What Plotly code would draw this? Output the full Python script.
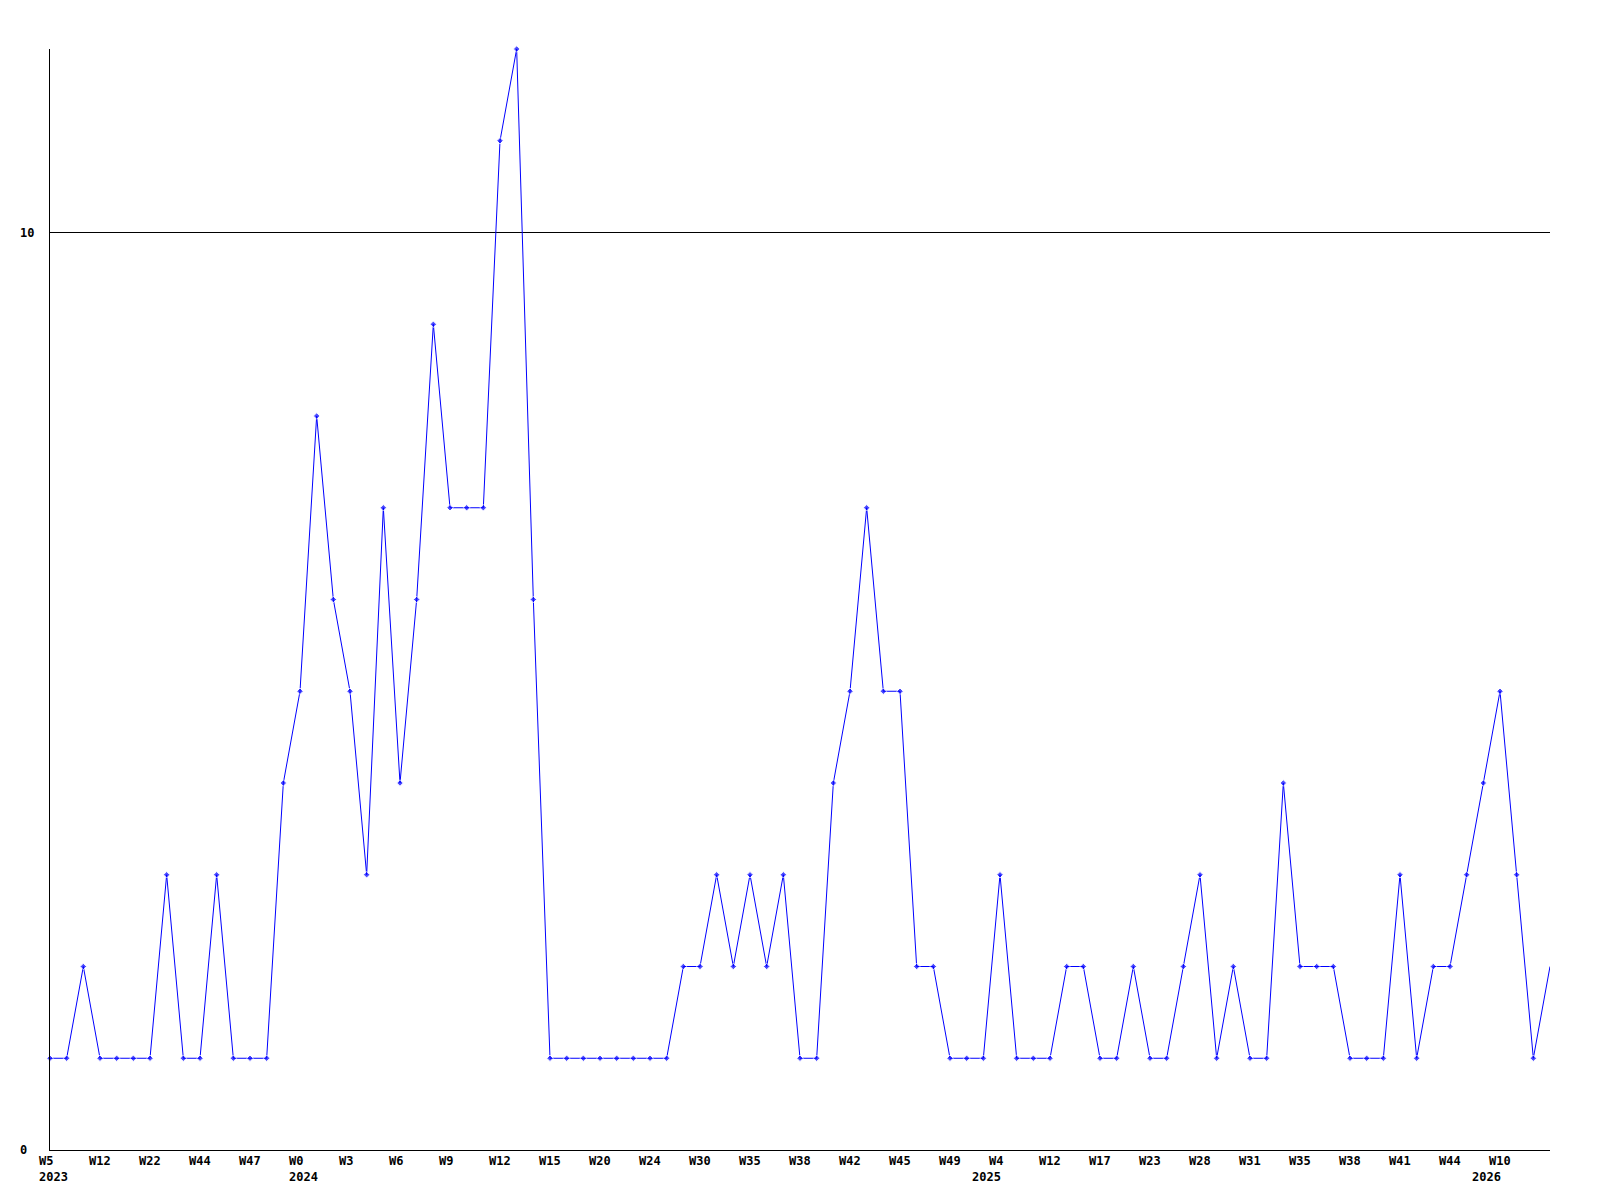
import plotly.graph_objects as go

values = [1, 1, 2, 1, 1, 1, 1, 3, 1, 1, 3, 1, 1, 1, 4, 5, 8, 6, 5, 3,
          7, 4, 6, 9, 7, 7, 7, 11, 12, 6, 1, 1, 1, 1, 1, 1, 1, 1, 2, 2,
          3, 2, 3, 2, 3, 1, 1, 4, 5, 7, 5, 5, 2, 2, 1, 1, 1, 3, 1, 1,
          1, 2, 2, 1, 1, 2, 1, 1, 2, 3, 1, 2, 1, 1, 4, 2, 2, 2, 1, 1,
          1, 3, 1, 2, 2, 3, 4, 5, 3, 1, 2]

week_labels = ["W5", "W12", "W22", "W44", "W47", "W0", "W3", "W6", "W9", "W12",
               "W15", "W20", "W24", "W30", "W35", "W38", "W42", "W45", "W49", "W4",
               "W12", "W17", "W23", "W28", "W31", "W35", "W38", "W41", "W44", "W10"]
year_labels = ["2023", "2024", "2025", "2026"]
year_index = [0, 15, 56, 86]
y_ticks = [0, 10]

x = list(range(len(values)))
tick_pos = list(range(0, len(values), 3))[:len(week_labels)]

font = dict(family="DejaVu Sans Mono", size=12, color="black")

sizes = [5] * len(values)
sizes[-1] = 0

fig = go.Figure()
fig.add_trace(go.Scatter(
    x=x, y=values, mode="lines+markers",
    line=dict(color="#0000ff", width=1),
    marker=dict(color="#0000ff", size=sizes, symbol="diamond"),
    cliponaxis=False, hoverinfo="skip",
))

annotations = []
for pos, lab in zip(tick_pos, week_labels):
    annotations.append(dict(x=pos, y=0, xref="x", yref="y", text="<b>%s</b>" % lab,
                            showarrow=False, xanchor="left", yanchor="middle",
                            xshift=-13, yshift=-11, font=font))
for pos, lab in zip(year_index, year_labels):
    annotations.append(dict(x=pos, y=0, xref="x", yref="y", text="<b>%s</b>" % lab,
                            showarrow=False, xanchor="left", yanchor="middle",
                            xshift=-13, yshift=-27, font=font))
for t in y_ticks:
    annotations.append(dict(x=0, y=t, xref="paper", yref="y", text="<b>%d</b>" % t,
                            showarrow=False, xanchor="left", yanchor="middle",
                            xshift=-32, font=font))

fig.update_layout(
    width=1600, height=1200,
    margin=dict(l=42, r=58, t=41, b=58),
    paper_bgcolor="white", plot_bgcolor="white",
    showlegend=False,
    annotations=annotations,
    xaxis=dict(range=[0, len(values) - 1], showgrid=False, zeroline=False,
               showticklabels=False, ticks="", showline=True, linecolor="black",
               linewidth=1, tickvals=tick_pos),
    yaxis=dict(range=[0, 12], tickvals=[10], showgrid=True, gridcolor="black",
               gridwidth=1, zeroline=False, showticklabels=False, ticks="",
               showline=True, linecolor="black", linewidth=1),
)

fig.write_html("out.html")
